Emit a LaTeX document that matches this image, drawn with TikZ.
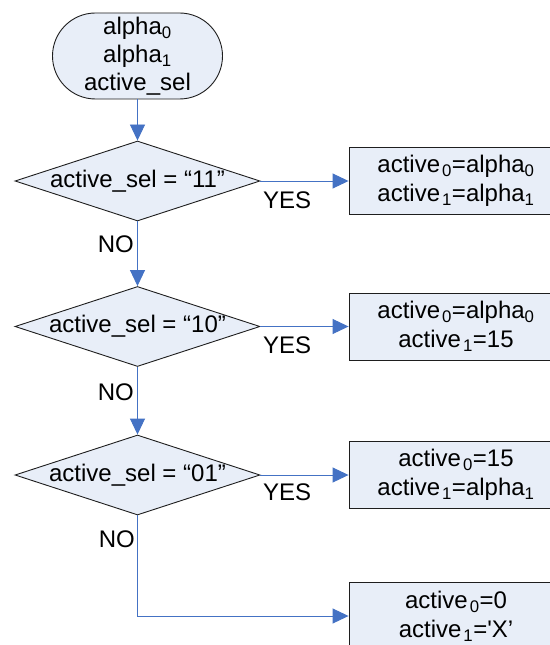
\documentclass[tikz,border=0pt]{standalone}
\usepackage{fontspec}
\usetikzlibrary{shapes.geometric,arrows.meta}
\newfontfamily\arial{Liberation Sans}
\definecolor{boxfill}{RGB}{232,238,248}
\definecolor{flowblue}{RGB}{68,114,196}
\definecolor{edge}{RGB}{30,30,30}
\newcommand{\sbt}[1]{\textsubscript{#1}}
\begin{document}
\begin{tikzpicture}[x=1bp,y=-1bp,
  txt/.style={font=\arial\fontsize{24bp}{28bp}\selectfont},
  terminal/.style={txt,draw=edge,line width=0.9bp,fill=boxfill,rounded corners=43bp,
    minimum width=170bp,minimum height=86bp,inner sep=0pt,align=center},
  decision/.style={diamond,draw=edge,line width=0.9bp,fill=boxfill,
    minimum width=245bp,minimum height=80bp,inner sep=0pt},
  action/.style={txt,draw=edge,line width=0.9bp,fill=boxfill,
    minimum width=214bp,minimum height=67bp,inner sep=0pt,align=center,
    font=\arial\fontsize{24bp}{29bp}\selectfont},
  lbl/.style={txt,inner sep=0pt},
  flow/.style={draw=flowblue,line width=0.9bp,-{Triangle[length=16bp,width=15bp]}}]
\clip (0,0) rectangle (550,645);
\fill[white] (0,0) rectangle (550,645);

% start block with the inputs
\node[terminal] (start) at (137.5,56) {alpha\sbt{0}\\alpha\sbt{1}\\active\_sel};

% decisions on active_sel
\node[decision,label={[txt]center:active\_sel = “11”}] (d1) at (137.5,181) {};
\node[decision,label={[txt]center:active\_sel = “10”}] (d2) at (137.5,326.5) {};
\node[decision,label={[txt]center:active\_sel = “01”}] (d3) at (137.5,475) {};

% resulting assignments
\node[action] (b1) at (456,181) {active\hspace{2bp}\sbt{0}=alpha\sbt{0}\\active\hspace{2bp}\sbt{1}=alpha\sbt{1}};
\node[action] (b2) at (456,326.5) {active\hspace{2bp}\sbt{0}=alpha\sbt{0}\\active\hspace{2bp}\sbt{1}=15};
\node[action] (b3) at (456,475) {active\hspace{2bp}\sbt{0}=15\\active\hspace{2bp}\sbt{1}=alpha\sbt{1}};
\node[action] (b4) at (456,616) {active\hspace{2bp}\sbt{0}=0\\active\hspace{2bp}\sbt{1}='X’};

% connectors
\draw[flow] (start) -- (d1);
\draw[flow] (d1) -- (d2);
\draw[flow] (d2) -- (d3);
\draw[flow] (d1) -- (b1);
\draw[flow] (d2) -- (b2);
\draw[flow] (d3) -- (b3);
\draw[flow] (d3.south) |- (b4.west);

% branch labels
\node[lbl,anchor=east] (no1) at (134,244) {NO};
\node[lbl,anchor=east] (no2) at (134,392) {NO};
\node[lbl,anchor=east] (no3) at (135,539) {NO};
\node[lbl,anchor=west] (yes1) at (263,200) {YES};
\node[lbl,anchor=west] (yes2) at (263,345) {YES};
\node[lbl,anchor=west] (yes3) at (263,492) {YES};
\end{tikzpicture}
\end{document}
